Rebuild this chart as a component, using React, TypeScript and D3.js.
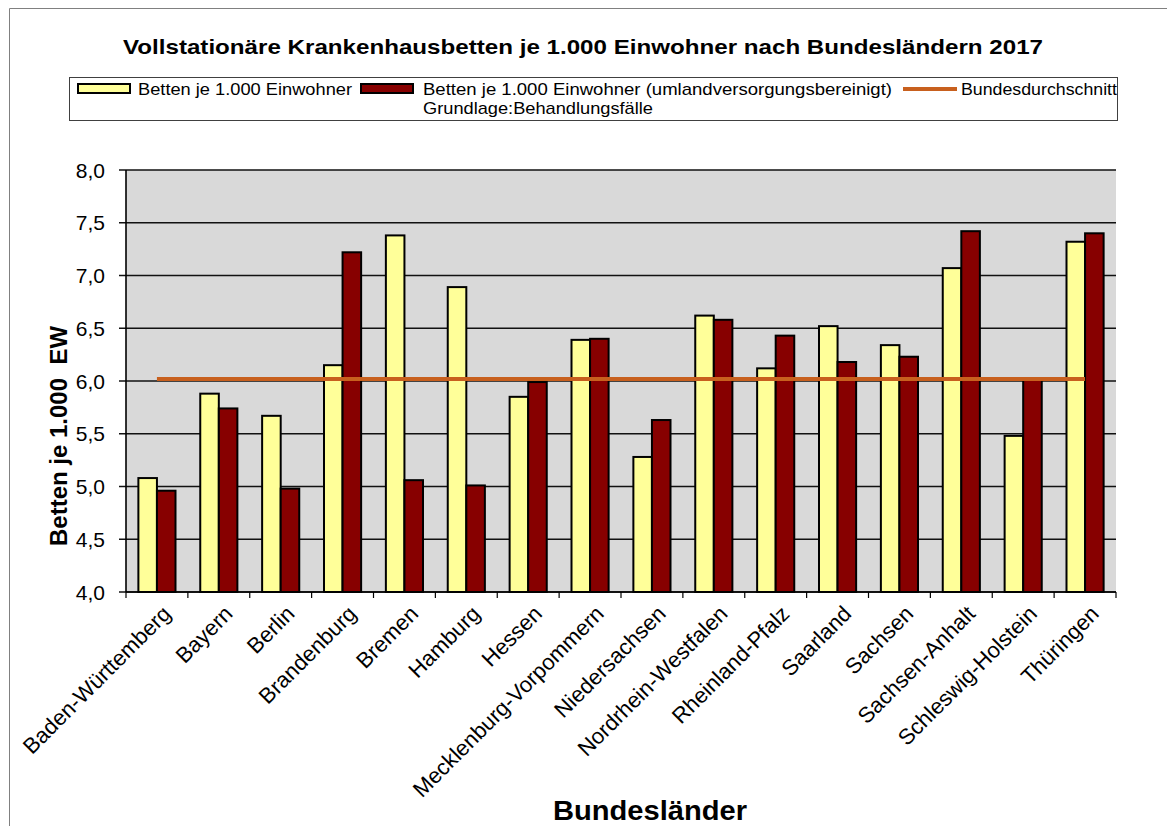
import * as d3 from "d3";

// Bundesländer und Werte (Betten je 1.000 Einwohner, 2017)
const laender = [
  "Baden-Württemberg", "Bayern", "Berlin", "Brandenburg", "Bremen", "Hamburg",
  "Hessen", "Mecklenburg-Vorpommern", "Niedersachsen", "Nordrhein-Westfalen",
  "Rheinland-Pfalz", "Saarland", "Sachsen", "Sachsen-Anhalt",
  "Schleswig-Holstein", "Thüringen",
];
const bettenJe1000 = [5.08, 5.88, 5.67, 6.15, 7.38, 6.89, 5.85, 6.39, 5.28, 6.62, 6.12, 6.52, 6.34, 7.07, 5.48, 7.32];
const bettenBereinigt = [4.96, 5.74, 4.98, 7.22, 5.06, 5.01, 5.99, 6.40, 5.63, 6.58, 6.43, 6.18, 6.23, 7.42, 6.01, 7.40];
const bundesdurchschnitt = 6.02;
const yTicks = [4.0, 4.5, 5.0, 5.5, 6.0, 6.5, 7.0, 7.5, 8.0];

const FONT = "'Liberation Sans', Arial, sans-serif";
const GELB = "#FFFF99";
const ROT = "#870000";
const ORANGE = "#C8601E";

const W = 1167;
const H = 826;
const plot = { left: 126, right: 1116, top: 170, bottom: 592 };

const App = () => {
  const x = d3.scaleBand<string>()
    .domain(laender)
    .range([plot.left, plot.right])
    .padding(0);

  const y = d3.scaleLinear()
    .domain([4, 8])
    .range([plot.bottom, plot.top]);

  const bw = x.bandwidth() * 0.3;
  const center = (d: string) => (x(d) as number) + x.bandwidth() / 2;
  const fmt = (v: number) => d3.format(".1f")(v).replace(".", ",");

  const avgLine = d3.line<string>()
    .x(d => center(d))
    .y(() => y(bundesdurchschnitt));

  return (
    <svg width={W} height={H} style={{ position: "absolute", left: 0, top: 0, background: "#fff" }}
      fontFamily={FONT}>
      {/* Rahmen */}
      <path d={`M9.5,${H} V8.5 H${W}`} fill="none" stroke="#808080" strokeWidth={1} />

      {/* Titel */}
      <text x={583} y={54} textAnchor="middle" fontSize={21} fontWeight="bold"
        textLength={920} lengthAdjust="spacingAndGlyphs">
        Vollstationäre Krankenhausbetten je 1.000 Einwohner nach Bundesländern 2017
      </text>

      {/* Legende */}
      <rect x={69.5} y={77.5} width={1048} height={43} fill="#fff" stroke="#404040" strokeWidth={1} />
      <rect x={78} y={84} width={52} height={9} fill={GELB} stroke="#000" strokeWidth={2} />
      <text x={138} y={95} fontSize={17} textLength={214} lengthAdjust="spacingAndGlyphs">
        Betten je 1.000 Einwohner
      </text>
      <rect x={361} y={84} width={52} height={9} fill={ROT} stroke="#000" strokeWidth={2} />
      <text x={423} y={95} fontSize={17} textLength={469} lengthAdjust="spacingAndGlyphs">
        Betten je 1.000 Einwohner (umlandversorgungsbereinigt)
      </text>
      <text x={423} y={114} fontSize={17} textLength={230} lengthAdjust="spacingAndGlyphs">
        Grundlage:Behandlungsfälle
      </text>
      <line x1={903} x2={957} y1={89} y2={89} stroke={ORANGE} strokeWidth={4} />
      <text x={961} y={95} fontSize={17} textLength={156} lengthAdjust="spacingAndGlyphs">
        Bundesdurchschnitt
      </text>

      {/* Zeichenfläche */}
      <rect x={plot.left} y={plot.top} width={plot.right - plot.left} height={plot.bottom - plot.top} fill="#D9D9D9" />

      {/* Gitternetz + Y-Achse */}
      {yTicks.map(t => (
        <g key={t}>
          <line x1={plot.left - 7} x2={plot.right} y1={y(t)} y2={y(t)} stroke="#111" strokeWidth={1.6} />
          <text x={105} y={y(t)} dy="0.36em" textAnchor="end" fontSize={21}>{fmt(t)}</text>
        </g>
      ))}

      {/* Balken */}
      {laender.map((d, i) => (
        <g key={d}>
          <rect x={center(d) - bw} y={y(bettenJe1000[i])} width={bw} height={y(4) - y(bettenJe1000[i])}
            fill={GELB} stroke="#000" strokeWidth={2} />
          <rect x={center(d)} y={y(bettenBereinigt[i])} width={bw} height={y(4) - y(bettenBereinigt[i])}
            fill={ROT} stroke="#000" strokeWidth={2} />
        </g>
      ))}

      {/* Bundesdurchschnitt */}
      <path d={avgLine(laender) as string} fill="none" stroke={ORANGE} strokeWidth={4} />

      {/* Achsen */}
      <line x1={plot.left} x2={plot.left} y1={plot.top} y2={plot.bottom} stroke="#000" strokeWidth={1.6} />
      <line x1={plot.left} x2={plot.right} y1={plot.bottom} y2={plot.bottom} stroke="#000" strokeWidth={1.6} />
      {[...laender.map(d => x(d) as number), plot.right].map((tx, i) => (
        <line key={i} x1={tx} x2={tx} y1={plot.bottom} y2={plot.bottom + 6} stroke="#000" strokeWidth={1.2} />
      ))}

      {/* X-Beschriftung */}
      {laender.map(d => (
        <text key={d} transform={`translate(${center(d) + 4},${plot.bottom + 12}) rotate(-45)`}
          textAnchor="end" dy="0.72em" fontSize={22}>
          {d}
        </text>
      ))}

      {/* Achsentitel */}
      <text transform={`translate(67,436) rotate(-90)`} textAnchor="middle" fontSize={24} fontWeight="bold"
        style={{ whiteSpace: "pre" }}>
        {"Betten je 1.000  EW"}
      </text>
      <text x={650} y={820} textAnchor="middle" fontSize={28} fontWeight="bold"
        textLength={194} lengthAdjust="spacingAndGlyphs">
        Bundesländer
      </text>
    </svg>
  );
};

export default App;
